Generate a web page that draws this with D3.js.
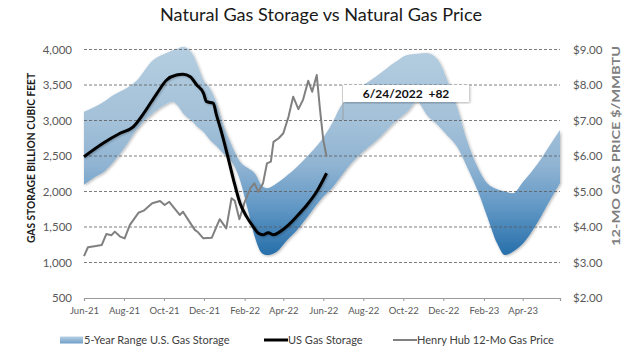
<!DOCTYPE html>
<html><head><meta charset="utf-8">
<script src="https://cdn.jsdelivr.net/npm/d3@7"></script>
<style>body{margin:0;background:#fff} svg{display:block} text{font-family:Lato,"Open Sans",sans-serif}</style>
</head><body><svg id="c" width="630" height="354"></svg>
<script>
// ---- data ----
const bandDates = ["2021-06-01","2021-06-17","2021-07-03","2021-07-18","2021-08-02","2021-08-20","2021-09-14","2021-10-02","2021-10-14","2021-10-21","2021-10-30","2021-11-13","2021-11-22","2021-11-30","2021-12-10","2021-12-21","2021-12-30","2022-01-10","2022-01-25","2022-02-06","2022-02-17","2022-02-27","2022-03-07","2022-03-22","2022-04-07","2022-04-22","2022-05-12","2022-06-01","2022-06-16","2022-06-27","2022-07-12","2022-07-27","2022-08-27","2022-09-16","2022-10-07","2022-10-22","2022-11-06","2022-11-23","2022-12-07","2022-12-22","2023-01-06","2023-01-22","2023-02-06","2023-02-21","2023-03-05","2023-03-17","2023-04-02","2023-04-23","2023-05-13","2023-05-28"];
const bandLower = [2094,2200,2290,2440,2620,2867,3100,3220,3265,3218,3100,2990,2900,2840,2726,2630,2538,2450,2160,1740,1346,1135,1106,1153,1318,1459,1694,1928,2068,2200,2380,2520,2772,2961,3125,3265,3078,2930,2790,2630,2350,2022,1646,1271,1106,1153,1271,1553,1881,2116];
const bandUpper = [3125,3190,3275,3370,3440,3560,3850,3940,3990,4010,4040,3945,3760,3570,3455,3230,2950,2700,2420,2330,2250,2080,2045,2116,2230,2350,2538,2760,2990,3195,3350,3460,3665,3805,3923,3940,3950,3852,3571,3195,2726,2350,2116,2032,2000,1975,2140,2380,2660,2867];

const storageDates = ["2021-06-01","2021-06-30","2021-07-26","2021-08-15","2021-08-31","2021-09-20","2021-10-05","2021-10-20","2021-10-30","2021-11-10","2021-11-20","2021-11-30","2021-12-05","2021-12-15","2021-12-20","2021-12-28","2022-01-05","2022-01-15","2022-01-25","2022-02-04","2022-02-14","2022-02-22","2022-03-01","2022-03-09","2022-03-17","2022-03-27","2022-04-09","2022-04-21","2022-05-07","2022-05-22","2022-06-06"];
const storageValues = [2490,2680,2820,2910,3100,3380,3570,3640,3650,3615,3500,3390,3265,3245,3080,2825,2540,2165,1834,1646,1505,1412,1390,1420,1390,1435,1530,1645,1810,2000,2257];

const priceDates = ["2021-06-01","2021-06-07","2021-06-17","2021-06-28","2021-07-05","2021-07-13","2021-07-18","2021-07-26","2021-08-02","2021-08-10","2021-08-23","2021-08-31","2021-09-13","2021-09-25","2021-10-02","2021-10-09","2021-10-25","2021-10-30","2021-11-07","2021-11-17","2021-11-22","2021-11-30","2021-12-13","2021-12-25","2022-01-04","2022-01-12","2022-01-17","2022-01-24","2022-02-01","2022-02-10","2022-02-16","2022-02-22","2022-03-01","2022-03-07","2022-03-13","2022-03-17","2022-03-25","2022-04-01","2022-04-09","2022-04-16","2022-04-24","2022-05-01","2022-05-09","2022-05-15","2022-05-22","2022-05-27","2022-06-01","2022-06-06"];
const priceValues = [3.18,3.43,3.46,3.49,3.80,3.77,3.87,3.73,3.68,4.06,4.40,4.46,4.67,4.73,4.62,4.71,4.34,4.43,4.20,3.92,3.85,3.68,3.70,4.22,3.96,4.81,4.74,4.22,4.70,5.10,5.23,4.99,5.23,5.79,5.84,6.40,6.50,6.64,7.11,7.67,7.32,7.58,8.12,7.81,8.28,7.30,6.45,5.98];

const storageTicks = [500,1000,1500,2000,2500,3000,3500,4000];
const priceTicks = [2,3,4,5,6,7,8,9];
const monthTicks = ["2021-06-01","2021-08-01","2021-10-01","2021-12-01","2022-02-01","2022-04-01","2022-06-01","2022-08-01","2022-10-01","2022-12-01","2023-02-01","2023-04-01"];
const xDomain = ["2021-06-01","2023-05-28"];

const titleText = "Natural Gas Storage vs Natural Gas Price";
const leftTitle = "GAS STORAGE BILLION CUBIC FEET";
const rightTitle = "12-MO GAS PRICE $/MMBTU";
const legendLabels = ["5-Year Range U.S. Gas Storage","US Gas Storage","Henry Hub 12-Mo Gas Price"];
const annotationText = "6/24/2022  +82";

// ---- drawing ----
const parse = d3.timeParse("%Y-%m-%d");
const svg = d3.select("#c");
const L = 84, R = 560, T = 49.5, B = 298;
const x = d3.scaleTime().domain(xDomain.map(parse)).range([L, R]);
const yL = d3.scaleLinear().domain([500, 4000]).range([B, T]);
const yR = d3.scaleLinear().domain([2, 9]).range([B, T]);

const defs = svg.append("defs");
const grad = defs.append("linearGradient").attr("id","bandGrad")
  .attr("gradientUnits","userSpaceOnUse").attr("x1",0).attr("x2",0)
  .attr("y1", yL(4000)).attr("y2", yL(1000));
[[0,"#b4cde0"],[0.35,"#a2c0d8"],[0.55,"#8fb3d2"],[0.75,"#5f96c4"],[1,"#1d68a6"]]
  .forEach(([o,c]) => grad.append("stop").attr("offset",o).attr("stop-color",c));
const lg = defs.append("linearGradient").attr("id","legGrad").attr("x1",0).attr("x2",0).attr("y1",0).attr("y2",1);
lg.append("stop").attr("offset",0).attr("stop-color","#b8d0e4");
lg.append("stop").attr("offset",1).attr("stop-color","#6f9fc8");
const sh = defs.append("filter").attr("id","soft").attr("x","-10%").attr("y","-10%").attr("width","120%").attr("height","120%");
sh.append("feDropShadow").attr("dx",1).attr("dy",1).attr("stdDeviation",1.5).attr("flood-color","#000").attr("flood-opacity",0.3);
const sh2 = defs.append("filter").attr("id","lineShadow").attr("x","-10%").attr("y","-10%").attr("width","120%").attr("height","120%");
sh2.append("feDropShadow").attr("dx",1).attr("dy",1).attr("stdDeviation",1).attr("flood-color","#000").attr("flood-opacity",0.25);

// title
svg.append("text").attr("x", 321).attr("y", 21).attr("text-anchor","middle")
  .attr("font-size", 17).attr("fill","#1a1a1a").attr("textLength", 322).attr("lengthAdjust","spacingAndGlyphs")
  .text(titleText);

// band
const bandData = bandDates.map((d,i) => ({d: parse(d), lo: bandLower[i], hi: bandUpper[i]}));
svg.append("path").datum(bandData)
  .attr("d", d3.area().x(d => x(d.d)).y0(d => yL(d.lo)).y1(d => yL(d.hi)).curve(d3.curveMonotoneX))
  .attr("fill","url(#bandGrad)").attr("filter","url(#soft)");

// gridlines (dashed, over the band)
svg.append("g").selectAll("line").data(storageTicks.filter(t => t > 500)).join("line")
  .attr("x1", L).attr("x2", R).attr("y1", d => yL(d)).attr("y2", d => yL(d))
  .attr("stroke","#5a5a5a").attr("stroke-width",0.8).attr("stroke-dasharray","3,2");

// x axis
const xAxis = svg.append("g").attr("transform",`translate(0,${B})`)
  .call(d3.axisBottom(x).tickValues(monthTicks.map(parse)).tickFormat(d3.timeFormat("%b-%y")).tickSize(3).tickPadding(6));
xAxis.select(".domain").attr("stroke","#9a9a9a").attr("stroke-width",1.2);
xAxis.selectAll(".tick line").attr("stroke","#9a9a9a");
xAxis.selectAll("text").attr("fill","#595959").attr("font-size",9.5).attr("font-family","Lato,sans-serif");

// left axis
const la = svg.append("g").attr("transform",`translate(${L},0)`)
  .call(d3.axisLeft(yL).tickValues(storageTicks).tickFormat(d3.format(",")).tickSize(0).tickPadding(12));
la.select(".domain").remove();
la.selectAll("text").attr("fill","#595959").attr("font-size",11.5).attr("font-family","Lato,sans-serif");

// right axis
const ra = svg.append("g").attr("transform",`translate(${R},0)`)
  .call(d3.axisRight(yR).tickValues(priceTicks).tickFormat(d => "$" + d3.format(".2f")(d)).tickSize(0).tickPadding(13));
ra.select(".domain").remove();
ra.selectAll("text").attr("fill","#595959").attr("font-size",11.5).attr("font-family","Lato,sans-serif");

// axis titles
svg.append("text").attr("transform",`translate(35,${(yL(4000)+yL(1000))/2 + 2}) rotate(-90)`)
  .attr("text-anchor","middle").attr("font-size",10.5).attr("font-weight","bold").attr("fill","#1a1a1a")
  .attr("textLength",170).attr("lengthAdjust","spacingAndGlyphs").text(leftTitle);
svg.append("text").attr("transform",`translate(620,146) rotate(-90)`)
  .attr("text-anchor","middle").attr("font-size",11).attr("font-weight","bold").attr("fill","#7f7f7f")
  .attr("textLength",200).attr("lengthAdjust","spacingAndGlyphs").text(rightTitle);

// price line
const priceData = priceDates.map((d,i) => ({d: parse(d), v: priceValues[i]}));
svg.append("path").datum(priceData)
  .attr("d", d3.line().x(d => x(d.d)).y(d => yR(d.v)))
  .attr("fill","none").attr("stroke","#808080").attr("stroke-width",2).attr("stroke-linejoin","round");

// storage line
const storageData = storageDates.map((d,i) => ({d: parse(d), v: storageValues[i]}));
svg.append("path").datum(storageData)
  .attr("d", d3.line().x(d => x(d.d)).y(d => yL(d.v)).curve(d3.curveMonotoneX))
  .attr("fill","none").attr("stroke","#000").attr("stroke-width",3).attr("stroke-linejoin","round")
  .attr("filter","url(#lineShadow)");

// annotation
svg.append("line").attr("x1",343).attr("x2",343).attr("y1",yL(3500)).attr("y2",120).attr("stroke","#9a9a9a").attr("stroke-width",0.8);
svg.append("rect").attr("x",343).attr("y",yL(3500)).attr("width",126).attr("height",17)
  .attr("fill","#fff").attr("filter","url(#soft)");
svg.append("text").attr("x",406).attr("y",yL(3500)+13).attr("text-anchor","middle")
  .attr("font-size",12).attr("font-weight","bold").attr("fill","#111").style("white-space","pre")
  .text(annotationText);

// legend
const ly = 340;
const leg = svg.append("g");
leg.append("rect").attr("x",60).attr("y",ly-3.5).attr("width",23).attr("height",7).attr("fill","url(#legGrad)");
leg.append("text").attr("x",84).attr("y",ly+4).attr("font-size",11).attr("fill","#404040").text(legendLabels[0]);
leg.append("line").attr("x1",264).attr("x2",288).attr("y1",ly).attr("y2",ly).attr("stroke","#000").attr("stroke-width",3);
leg.append("text").attr("x",288).attr("y",ly+4).attr("font-size",11).attr("fill","#404040").text(legendLabels[1]);
leg.append("line").attr("x1",393).attr("x2",417).attr("y1",ly).attr("y2",ly).attr("stroke","#808080").attr("stroke-width",2);
leg.append("text").attr("x",417).attr("y",ly+4).attr("font-size",11).attr("fill","#404040").text(legendLabels[2]);
</script></body></html>
